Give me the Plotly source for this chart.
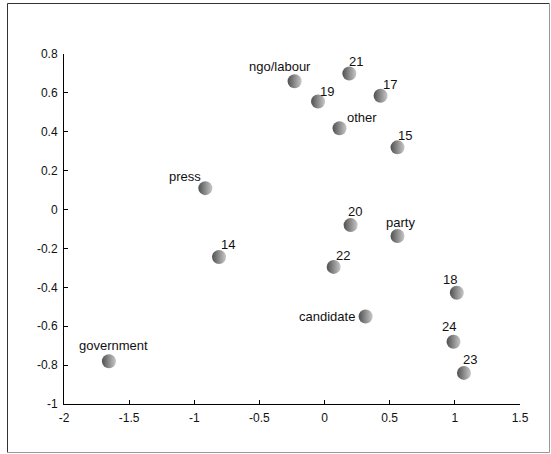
import plotly.graph_objects as go

names = ["ngo/labour", "21", "19", "17", "other", "15", "press", "20", "party",
         "14", "22", "18", "candidate", "24", "23", "government"]
xs = [-0.23, 0.19, -0.05, 0.43, 0.115, 0.56, -0.915, 0.20, 0.56,
      -0.81, 0.07, 1.015, 0.315, 0.99, 1.07, -1.655]
ys = [0.66, 0.70, 0.556, 0.585, 0.418, 0.32, 0.11, -0.08, -0.136,
      -0.244, -0.295, -0.428, -0.55, -0.68, -0.84, -0.78]
# label offsets in pixels (dx right, dy up)
label_dx = [-15, 7, 9, 9, 22, 7, -20, 4, 3, 9, 9, -7, -39, -5, 6, 5]
label_dy = [15, 12, 10, 11, 11, 12, 12, 14, 14, 13, 11, 13, 0, 15, 13, 16]

xticks = [-2, -1.5, -1, -0.5, 0, 0.5, 1, 1.5]
yticks = [-1, -0.8, -0.6, -0.4, -0.2, 0, 0.2, 0.4, 0.6, 0.8]

W, H = 551, 454
ML, MR, MT, MB = 64, 31, 54, 50
PW, PH = W - ML - MR, H - MT - MB

fig = go.Figure()
fig.add_trace(go.Scatter(
    x=xs, y=ys, mode="markers",
    marker=dict(size=14, color="#505050",
                gradient=dict(type="horizontal", color="#c8c8c8"),
                line=dict(width=0)),
    hoverinfo="skip", showlegend=False))

for n, x, y, dx, dy in zip(names, xs, ys, label_dx, label_dy):
    fig.add_annotation(x=x, y=y, text=n, showarrow=False,
                       xanchor="center", yanchor="middle",
                       xshift=dx, yshift=dy,
                       font=dict(family="Liberation Sans, Arial", size=13, color="#111"))

def px2paper_x(p):
    return (p - ML) / PW

def px2paper_y(p):
    return (H - MB - p) / PH

fx0, fx1 = px2paper_x(7.5), px2paper_x(549.5)
fy0, fy1 = px2paper_y(452.5), px2paper_y(3.5)
fig.add_shape(type="line", xref="paper", yref="paper", x0=fx0, x1=fx0, y0=fy0, y1=fy1,
              line=dict(color="#333", width=1))
fig.add_shape(type="line", xref="paper", yref="paper", x0=fx0, x1=fx1, y0=fy1, y1=fy1,
              line=dict(color="#333", width=1))
fig.add_shape(type="line", xref="paper", yref="paper", x0=fx1, x1=fx1, y0=fy0, y1=fy1,
              line=dict(color="#999", width=1))
fig.add_shape(type="line", xref="paper", yref="paper", x0=fx0, x1=fx1, y0=fy0, y1=fy0,
              line=dict(color="#999", width=1))

fig.update_layout(
    width=W, height=H,
    margin=dict(l=ML, r=MR, t=MT, b=MB, pad=0),
    paper_bgcolor="white", plot_bgcolor="white",
    font=dict(family="Liberation Sans, Arial", size=12, color="#111"),
    xaxis=dict(range=[-2, 1.5], tickvals=xticks, ticktext=[("%g" % v) for v in xticks],
               showline=True, linecolor="black", linewidth=1,
               ticks="inside", ticklen=4, tickcolor="black",
               showgrid=False, zeroline=False, ticklabelstandoff=3),
    yaxis=dict(range=[-1, 0.8], tickvals=yticks, ticktext=[("%g" % v) for v in yticks],
               showline=True, linecolor="black", linewidth=1,
               ticks="inside", ticklen=4, tickcolor="black",
               showgrid=False, zeroline=False, ticklabelstandoff=3),
)

fig.write_html("out.html", config={"displayModeBar": False},
               post_script="document.body.style.margin='0';document.body.style.overflow='hidden';")
